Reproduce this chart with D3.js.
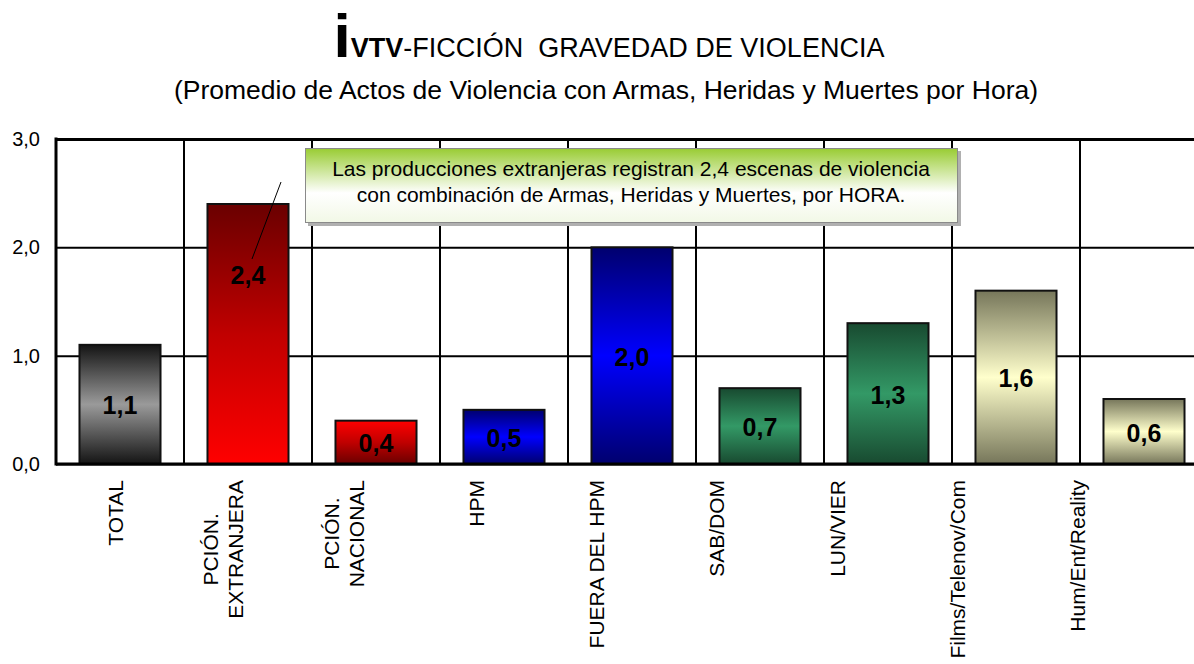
<!DOCTYPE html>
<html>
<head>
<meta charset="utf-8">
<script src="https://cdn.jsdelivr.net/npm/d3@7"></script>
<style>
  body { margin: 0; background: #fff; }
  text { font-family: Arial, "Liberation Sans", sans-serif; }
</style>
</head>
<body>
<script>
// Data.
var categories = ["TOTAL", "PCIÓN.\nEXTRANJERA", "PCIÓN.\nNACIONAL", "HPM", "FUERA DEL HPM",
                  "SAB/DOM", "LUN/VIER", "Films/Telenov/Com", "Hum/Ent/Reality"];
var values = [1.1, 2.4, 0.4, 0.5, 2.0, 0.7, 1.3, 1.6, 0.6];
var yTicks = [0, 1, 2, 3];
var noteLines = ["Las producciones extranjeras registran 2,4 escenas de violencia",
                 "con combinación de Armas, Heridas y Muertes, por HORA."];

// Bar fills (vertical gradients), one per category.
var barFills = [
  ["#141414", "#9a9a9a", "#141414"],
  ["#6a0000", "#c00000", "#ff0000"],
  ["#ff0000", "#c00000", "#6a0000"],
  ["#00006e", "#0000ff", "#00006e"],
  ["#00006e", "#0000ff", "#00006e"],
  ["#184a30", "#339966", "#184a30"],
  ["#184a30", "#339966", "#184a30"],
  ["#76765a", "#ffffcc", "#76765a"],
  ["#76765a", "#ffffcc", "#76765a"]
];

var width = 1194,
  height = 664,
  plotLeft = 56,
  plotTop = 139,
  plotBottom = 464,
  plotRight = 1208,
  labelTop = 480,
  lineGap = 25;

var fmt = d3.formatLocale({decimal: ",", thousands: ".", grouping: [3], currency: ["", ""]}).format(".1f");

var svg = d3.select("body").append("svg")
    .attr("width", width)
    .attr("height", height);

var defs = svg.append("defs");

var x = d3.scaleBand()
    .domain(categories)
    .range([plotLeft, plotRight])
    .paddingInner(0.367)
    .paddingOuter(0.1835);

var y = d3.scaleLinear()
    .domain([0, 3])
    .range([plotBottom, plotTop]);

// Category labels sit on a slightly tighter spacing than the bars.
var labelX = d3.scalePoint()
    .domain(categories)
    .range([123, 1085]);

// Gradients.
barFills.forEach(function(stops, i) {
  var g = defs.append("linearGradient")
      .attr("id", "fill" + i)
      .attr("x1", 0).attr("y1", 0).attr("x2", 0).attr("y2", 1);
  stops.forEach(function(c, j) {
    g.append("stop")
        .attr("offset", j / (stops.length - 1))
        .attr("stop-color", c);
  });
});
var noteGrad = defs.append("linearGradient")
    .attr("id", "noteFill")
    .attr("x1", 0).attr("y1", 0).attr("x2", 0).attr("y2", 1);
noteGrad.append("stop").attr("offset", 0).attr("stop-color", "#99cc33");
noteGrad.append("stop").attr("offset", 0.6).attr("stop-color", "#ffffff");
noteGrad.append("stop").attr("offset", 1).attr("stop-color", "#f2f8e6");

// Title.
var title = svg.append("text")
    .attr("x", 609)
    .attr("y", 57)
    .attr("text-anchor", "middle")
    .style("fill", "#000");
title.append("tspan")
    .style("font-size", "62px")
    .style("font-weight", "bold")
    .text("i");
title.append("tspan")
    .style("font-size", "27px")
    .style("font-weight", "bold")
    .text("VTV");
title.append("tspan")
    .style("font-size", "27px")
    .text("-FICCIÓN\u00a0 GRAVEDAD DE VIOLENCIA");

svg.append("text")
    .attr("x", 606)
    .attr("y", 99)
    .attr("text-anchor", "middle")
    .style("font-size", "26.5px")
    .text("(Promedio de Actos de Violencia con Armas, Heridas y Muertes por Hora)");

// Horizontal gridlines.
svg.append("g")
    .attr("transform", "translate(" + plotLeft + ",0)")
    .call(d3.axisLeft(y).tickValues(yTicks).tickSize(-(plotRight - plotLeft)).tickFormat(""))
    .call(function(g) {
      g.select(".domain").remove();
      g.selectAll("line")
          .attr("stroke", "#000")
          .attr("stroke-width", function(d) { return d === 3 ? 3 : 2; });
    });

// Vertical gridlines at category boundaries.
svg.append("g")
    .selectAll("line")
    .data(categories.slice(1))
  .enter().append("line")
    .attr("x1", function(d) { return x(d) + x.bandwidth() / 2 - x.step() / 2; })
    .attr("x2", function(d) { return x(d) + x.bandwidth() / 2 - x.step() / 2; })
    .attr("y1", plotTop)
    .attr("y2", plotBottom)
    .attr("stroke", "#000")
    .attr("stroke-width", 2);

// Bars.
svg.append("g")
    .selectAll("rect")
    .data(values)
  .enter().append("rect")
    .attr("x", function(d, i) { return x(categories[i]); })
    .attr("y", function(d) { return y(d); })
    .attr("width", x.bandwidth())
    .attr("height", function(d) { return y(0) - y(d); })
    .style("fill", function(d, i) { return "url(#fill" + i + ")"; })
    .style("stroke", "#111")
    .style("stroke-width", 2);

// Axis lines.
svg.append("line")
    .attr("x1", plotLeft).attr("x2", plotRight)
    .attr("y1", plotBottom).attr("y2", plotBottom)
    .attr("stroke", "#000").attr("stroke-width", 3);
svg.append("line")
    .attr("x1", plotLeft).attr("x2", plotLeft)
    .attr("y1", plotTop - 1.5).attr("y2", plotBottom + 1.5)
    .attr("stroke", "#000").attr("stroke-width", 3);

// Y tick labels.
svg.append("g")
    .attr("transform", "translate(" + plotLeft + ",0)")
    .call(d3.axisLeft(y).tickValues(yTicks).tickSize(0).tickPadding(16).tickFormat(fmt))
    .call(function(g) {
      g.select(".domain").remove();
      g.selectAll("text")
          .style("font-family", 'Arial, "Liberation Sans", sans-serif')
          .style("font-size", "20px")
          .style("fill", "#000");
    });

// Callout line from the 2,4 label up to the note.
var calloutIdx = 1;
var calloutX = x(categories[calloutIdx]) + x.bandwidth() / 2;
svg.append("line")
    .attr("x1", calloutX + 4).attr("y1", 259)
    .attr("x2", calloutX + 33).attr("y2", 182)
    .attr("stroke", "#000").attr("stroke-width", 1);

// Value labels.
svg.append("g")
    .selectAll("text")
    .data(values)
  .enter().append("text")
    .attr("x", function(d, i) { return x(categories[i]) + x.bandwidth() / 2; })
    .attr("y", function(d, i) {
      return i === calloutIdx ? 275 : (y(d) + y(0)) / 2 + 1;
    })
    .attr("text-anchor", "middle")
    .attr("dominant-baseline", "central")
    .style("font-size", "25px")
    .style("font-weight", "bold")
    .text(function(d) { return fmt(d); });

// Note box.
svg.append("rect")
    .attr("x", 308).attr("y", 151)
    .attr("width", 653).attr("height", 75)
    .style("fill", "#b0b0b0");
svg.append("rect")
    .attr("x", 305.5).attr("y", 148.5)
    .attr("width", 652).attr("height", 74)
    .style("fill", "url(#noteFill)")
    .style("stroke", "#8a8a8a")
    .style("stroke-width", 1);
svg.append("text")
    .attr("x", 631)
    .attr("y", 176)
    .attr("text-anchor", "middle")
    .style("font-size", "21px")
    .selectAll("tspan")
    .data(noteLines)
  .enter().append("tspan")
    .attr("x", 631)
    .attr("dy", function(d, i) { return i ? 26 : 0; })
    .text(function(d) { return d; });

// Category labels, rotated.
svg.append("g")
    .selectAll("text")
    .data(categories)
  .enter().append("text")
    .style("font-size", "21px")
    .each(function(d) {
      var lines = d.split("\n"),
        t = d3.select(this);
      t.attr("transform", "translate(" + labelX(d) + "," + labelTop + ") rotate(-90)");
      lines.forEach(function(line, k) {
        t.append("tspan")
            .attr("y", -(lines.length - 1 - k) * lineGap)
            .text(line);
      });
      var maxLen = 0;
      t.selectAll("tspan").each(function() {
        maxLen = Math.max(maxLen, this.getComputedTextLength());
      });
      t.selectAll("tspan")
          .attr("x", -maxLen / 2)
          .attr("text-anchor", "middle");
    });
</script>
</body>
</html>
